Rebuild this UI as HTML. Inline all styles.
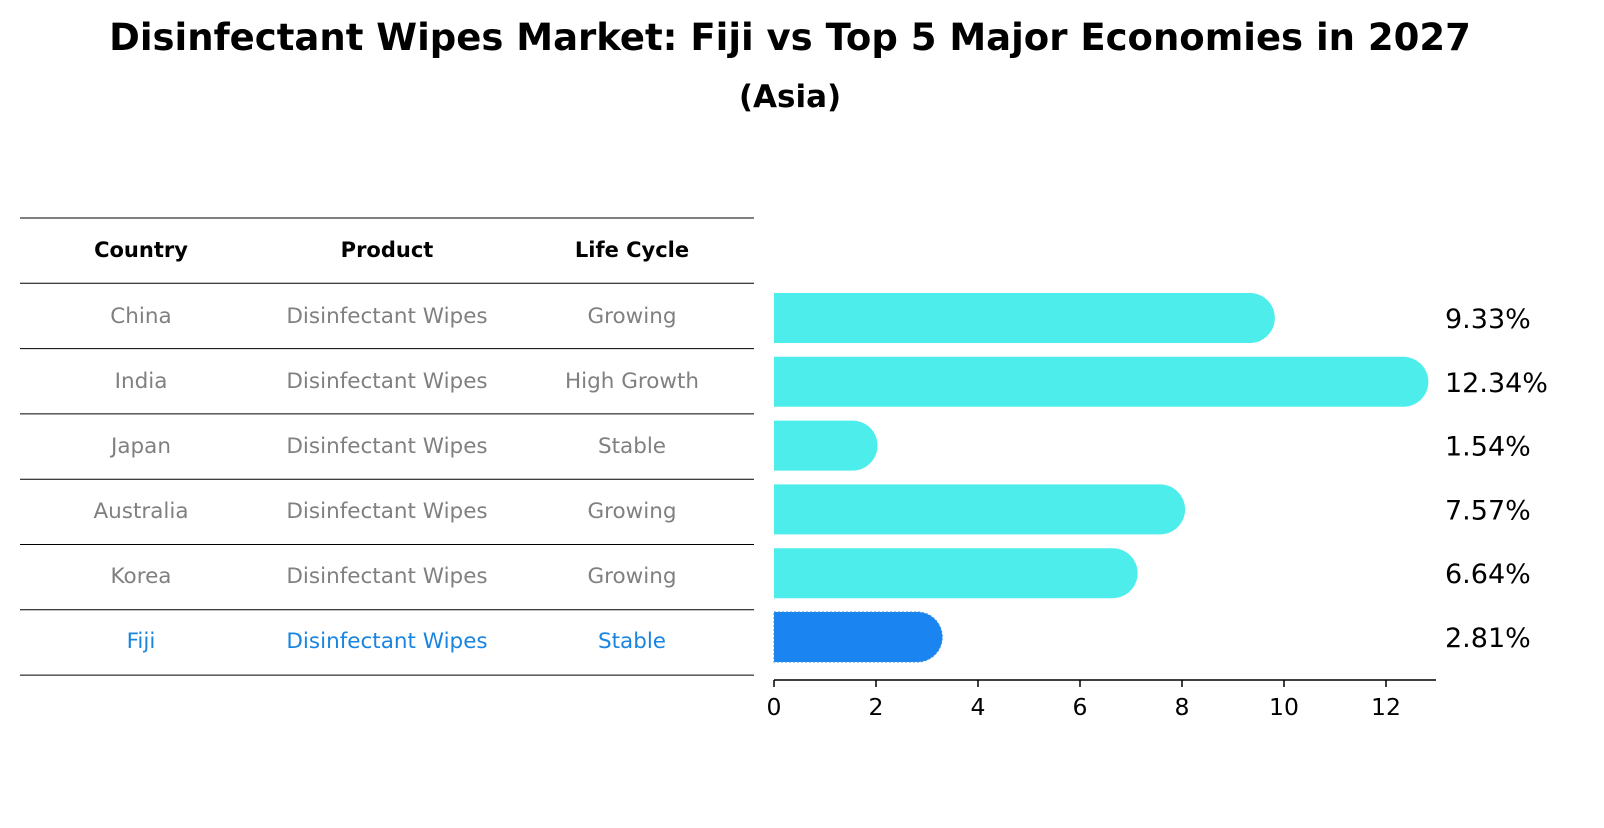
<!DOCTYPE html>
<html><head><meta charset="utf-8"><style>
body{margin:0;background:#fff;font-family:"Liberation Sans","DejaVu Sans",sans-serif}
</style></head><body>
<svg width="1604" height="823" xmlns="http://www.w3.org/2000/svg">
<text x="790" y="50" text-anchor="middle" font-size="37" font-weight="bold" font-family="DejaVu Sans, sans-serif">Disinfectant Wipes Market: Fiji vs Top 5 Major Economies in 2027</text>
<text x="790" y="107" text-anchor="middle" font-size="31" font-weight="bold" font-family="DejaVu Sans, sans-serif">(Asia)</text>
<g id="table"></g>
<g id="bars"></g>
</svg>
<script>
const countries=["China","India","Japan","Australia","Korea","Fiji"];
const products=["Disinfectant Wipes","Disinfectant Wipes","Disinfectant Wipes","Disinfectant Wipes","Disinfectant Wipes","Disinfectant Wipes"];
const lifecycle=["Growing","High Growth","Stable","Growing","Growing","Stable"];
const values=[9.33,12.34,1.54,7.57,6.64,2.81];
const ticks=[0,2,4,6,8,10,12];
const NS="http://www.w3.org/2000/svg";
function mk(tag,attrs,parent){const e=document.createElementNS(NS,tag);for(const k in attrs)e.setAttribute(k,attrs[k]);parent.appendChild(e);return e;}
const tbl=document.getElementById('table');
const rowY=i=>316+i*65;
const cols=[141,387,632];
for(let i=0;i<=7;i++){const y=218+i*65.3;const l=mk('line',{x1:20,x2:754,y1:y,y2:y,stroke:'#000','stroke-width':1},tbl);

}
["Country","Product","Life Cycle"].forEach((h,j)=>{const t=mk('text',{x:cols[j],y:257,'text-anchor':'middle','font-size':21,'font-weight':'bold','font-family':'DejaVu Sans, sans-serif'},tbl);t.textContent=h;

});
countries.forEach((c,i)=>{const fill=c==="Fiji"?"#1a85e0":"#808080";[c,products[i],lifecycle[i]].forEach((s,j)=>{const t=mk('text',{x:cols[j],y:rowY(i)+7,'text-anchor':'middle','font-size':21.5,fill:fill,'font-family':'DejaVu Sans, sans-serif'},tbl);t.textContent=s;

});});
const g=document.getElementById('bars');
const x0=774,ppu=51;const xs=v=>x0+v*ppu;
const barY=i=>318+i*63.8;const h=50,r=25;
values.forEach((v,i)=>{const col=countries[i]==="Fiji"?"#1a85f0":"#4dedeb";const xe=xs(v);const yc=barY(i);
const p=mk('path',{d:`M${x0},${yc-h/2} H${xe} A${r},${r} 0 0 1 ${xe},${yc+h/2} H${x0} Z`,fill:col},g);
if(countries[i]==="Fiji"){p.setAttribute('stroke','#3a8fe0');p.setAttribute('stroke-dasharray','2,2');}


const t=mk('text',{x:1445,y:yc+10,'font-size':27,'font-family':'DejaVu Sans, sans-serif'},g);t.textContent=v.toFixed(2)+'%';

});
const ax=mk('line',{x1:x0,x2:1436,y1:680,y2:680,stroke:'#000','stroke-width':1.5},g);


ticks.forEach(tv=>{const tk=mk('line',{x1:xs(tv),x2:xs(tv),y1:680,y2:687,stroke:'#000','stroke-width':1.5},g);


const t=mk('text',{x:xs(tv),y:715,'text-anchor':'middle','font-size':23.5,'font-family':'DejaVu Sans, sans-serif'},g);t.textContent=tv;

});
</script>
</body></html>
